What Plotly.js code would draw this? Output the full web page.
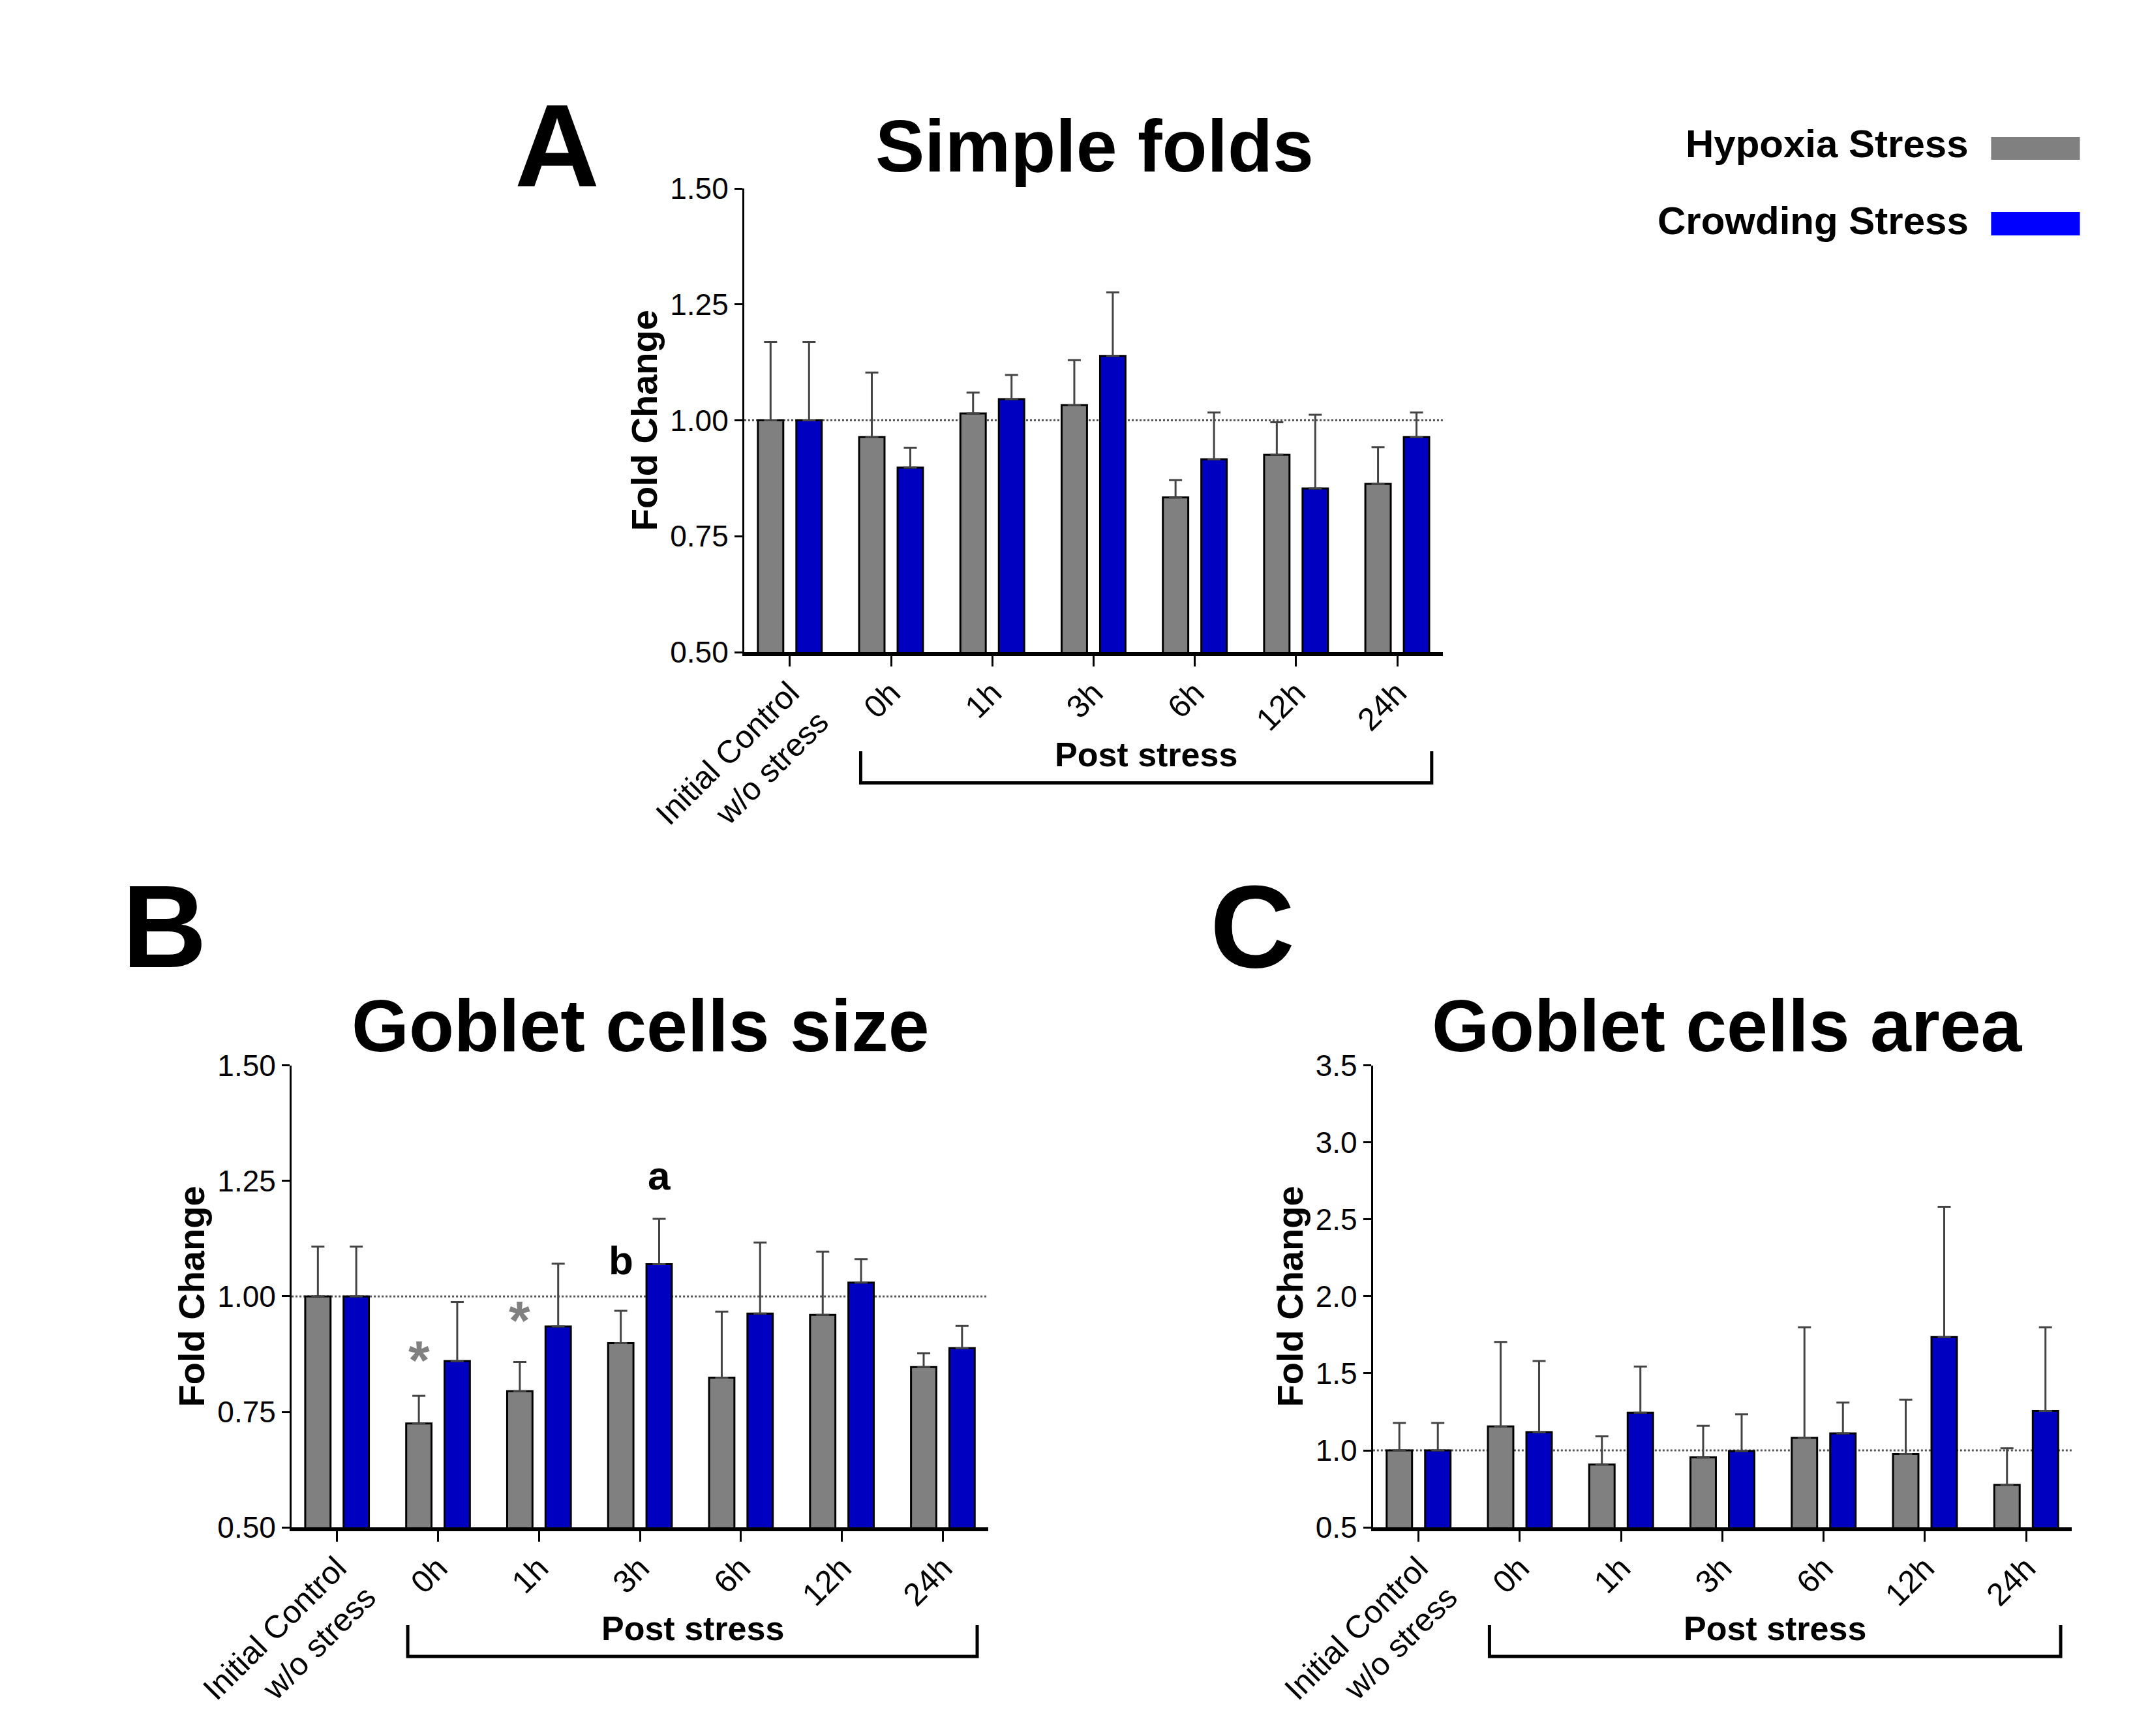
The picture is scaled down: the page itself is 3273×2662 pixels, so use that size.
<!DOCTYPE html>
<html>
<head>
<meta charset="utf-8">
<script src="https://cdn.plot.ly/plotly-3.0.1.min.js"></script>
<style>html,body{margin:0;padding:0;background:#fff}</style>
</head>
<body>
<div id="chart" style="width:3273px;height:2662px"></div>
<script>
// ---------- DATA ----------
const categories = ["Initial Control<br>w/o stress", "0h", "1h", "3h", "6h", "12h", "24h"];
const seriesNames = ["Hypoxia Stress", "Crowding Stress"];

// Panel A: Simple folds
const foldsHypoxia     = [1.00, 0.964, 1.015, 1.033, 0.834, 0.926, 0.863];
const foldsHypoxiaErr  = [0.169, 0.139, 0.045, 0.097, 0.037, 0.070, 0.079];
const foldsCrowding    = [1.00, 0.898, 1.046, 1.139, 0.916, 0.853, 0.964];
const foldsCrowdingErr = [0.169, 0.043, 0.052, 0.137, 0.101, 0.159, 0.053];

// Panel B: Goblet cells size
const sizeHypoxia      = [1.00, 0.725, 0.795, 0.899, 0.824, 0.960, 0.847];
const sizeHypoxiaErr   = [0.108, 0.060, 0.063, 0.070, 0.143, 0.137, 0.030];
const sizeCrowding     = [1.00, 0.860, 0.935, 1.070, 0.963, 1.030, 0.888];
const sizeCrowdingErr  = [0.108, 0.128, 0.136, 0.098, 0.154, 0.051, 0.048];

// Panel C: Goblet cells area
const areaHypoxia      = [1.00, 1.156, 0.908, 0.955, 1.082, 0.977, 0.776];
const areaHypoxiaErr   = [0.178, 0.548, 0.183, 0.205, 0.718, 0.353, 0.238];
const areaCrowding     = [1.00, 1.119, 1.245, 0.996, 1.110, 1.736, 1.256];
const areaCrowdingErr  = [0.178, 0.462, 0.300, 0.238, 0.200, 0.847, 0.544];

const ticksAB = [0.50, 0.75, 1.00, 1.25, 1.50];
const ticksC  = [0.5, 1.0, 1.5, 2.0, 2.5, 3.0, 3.5];

// ---------- STYLE ----------
const GRAY = "#808080", BLUE = "#0000C0";
const FONT = "Liberation Sans, Arial, sans-serif";
const NARROW = "Liberation Sans Narrow, Liberation Sans, Arial, sans-serif";

function barTrace(vals, errs, name, color, ax) {
  return {
    type: "bar", x: categories, y: vals, name: name,
    xaxis: "x" + ax, yaxis: "y" + ax,
    marker: {color: color, line: {color: "#000", width: 3}},
    error_y: {type: "data", symmetric: false, array: errs, arrayminus: errs.map(() => 0),
              color: "#444", thickness: 3, width: 10},
    showlegend: false, hoverinfo: "y"
  };
}

const traces = [
  barTrace(foldsHypoxia, foldsHypoxiaErr, seriesNames[0], GRAY, ""),
  barTrace(foldsCrowding, foldsCrowdingErr, seriesNames[1], BLUE, ""),
  barTrace(sizeHypoxia, sizeHypoxiaErr, seriesNames[0], GRAY, "2"),
  barTrace(sizeCrowding, sizeCrowdingErr, seriesNames[1], BLUE, "2"),
  barTrace(areaHypoxia, areaHypoxiaErr, seriesNames[0], GRAY, "3"),
  barTrace(areaCrowding, areaCrowdingErr, seriesNames[1], BLUE, "3")
];

function xAxis(dom, anchor) {
  return {
    domain: dom, anchor: anchor, type: "category", range: [-0.45, 6.45],
    showline: true, linecolor: "#000", linewidth: 6, ticks: "outside", ticklen: 16,
    tickwidth: 3, tickcolor: "#000", tickangle: -45, showgrid: false, zeroline: false,
    ticklabelstandoff: -8,
    tickfont: {family: FONT, size: 49, color: "#000"}, fixedrange: true
  };
}
function yAxis(dom, anchor, range, ticks, fmt) {
  return {
    domain: dom, anchor: anchor, range: range, tickvals: ticks,
    ticktext: ticks.map(v => v.toFixed(fmt)),
    showline: true, linecolor: "#000", linewidth: 3, ticks: "outside", ticklen: 12,
    tickwidth: 3, tickcolor: "#000", showgrid: false, zeroline: false,
    tickfont: {family: NARROW, size: 46, color: "#000"},
    title: {text: "Fold Change", font: {family: FONT, size: 56, color: "#000", weight: "bold"}, standoff: 2},
    fixedrange: true
  };
}

const layout = {
  width: 3273, height: 2662, margin: {l: 0, r: 0, t: 0, b: 0},
  paper_bgcolor: "#fff", plot_bgcolor: "#fff",
  barmode: "group", bargap: 0.24, bargroupgap: 0.34, showlegend: false,
  xaxis:  xAxis([0.3486, 0.6758], "y"),
  yaxis:  yAxis([0.6243, 0.8914], "x", [0.5, 1.5], ticksAB, 2),
  xaxis2: xAxis([0.1366, 0.4629], "y2"),
  yaxis2: yAxis([0.1202, 0.3862], "x2", [0.5, 1.5], ticksAB, 2),
  xaxis3: xAxis([0.6431, 0.9704], "y3"),
  yaxis3: yAxis([0.1202, 0.3862], "x3", [0.5, 3.5], ticksC, 1),
  shapes: [],
  annotations: []
};

function note(o) {
  return Object.assign({showarrow: false, xanchor: "center", yanchor: "middle"}, o);
}

// reference lines at 1.0 and "Post stress" brackets
[["x", "y", 0.5490, 0.5672, 0.5654], ["x2", "y2", 0.0458, 0.0639, 0.0620], ["x3", "y3", 0.0458, 0.0639, 0.0620]]
.forEach(([xr, yr, yl, yt, ytext]) => {
  layout.shapes.push({type: "line", xref: xr + " domain", yref: yr, x0: 0, x1: 1, y0: 1, y1: 1,
    line: {color: "#555", width: 3, dash: "dot"}, layer: "below"});
  layout.shapes.push({type: "path", xref: xr, yref: "paper",
    path: `M 0.70 ${yt} L 0.70 ${yl} L 6.34 ${yl} L 6.34 ${yt}`,
    line: {color: "#000", width: 5}});
  layout.annotations.push(note({xref: xr, yref: "paper", x: 3.52, y: ytext, text: "Post stress",
    font: {family: FONT, size: 52, color: "#000", weight: "bold"}}));
});

// panel titles and letters
const titles = [["Simple folds", 0.5127, 0.9160], ["Goblet cells size", 0.3000, 0.4092], ["Goblet cells area", 0.8090, 0.4092]];
titles.forEach(([t, x, y]) => layout.annotations.push(note({xref: "paper", yref: "paper", x: x, y: y, text: t,
  font: {family: FONT, size: 113, color: "#000", weight: "bold"}})));
const letters = [["A", 0.2609, 0.9160], ["B", 0.0770, 0.4665], ["C", 0.5866, 0.4665]];
letters.forEach(([t, x, y]) => layout.annotations.push(note({xref: "paper", yref: "paper", x: x, y: y, text: t,
  font: {family: FONT, size: 180, color: "#000", weight: "bold"}})));

// legend (text left, swatch right)
const legendColors = [GRAY, "#0000FF"];
[[0.9170, 0.9211, 0.9080], [0.8730, 0.8779, 0.8644]].forEach(([ty, s0, s1], i) => {
  layout.annotations.push(note({xref: "paper", yref: "paper", x: 0.9226, y: ty, xanchor: "right", text: seriesNames[i],
    font: {family: FONT, size: 60, color: "#000", weight: "bold"}}));
  layout.shapes.push({type: "rect", xref: "paper", yref: "paper", x0: 0.9326, x1: 0.9742, y0: s1, y1: s0,
    fillcolor: legendColors[i], line: {width: 0}});
});

// significance marks in panel B
const off = 0.19;
[["*", 1 - off, 0.862, GRAY, 84], ["*", 2 - off, 0.948, GRAY, 84],
 ["b", 3 - off, 1.078, "#000", 62], ["a", 3 + off, 1.262, "#000", 62]].forEach(([t, x, y, c, s]) =>
  layout.annotations.push(note({xref: "x2", yref: "y2", x: x, y: y, text: t,
    font: {family: FONT, size: s, color: c, weight: "bold"}})));

Plotly.newPlot("chart", traces, layout, {staticPlot: true});
</script>
</body>
</html>
